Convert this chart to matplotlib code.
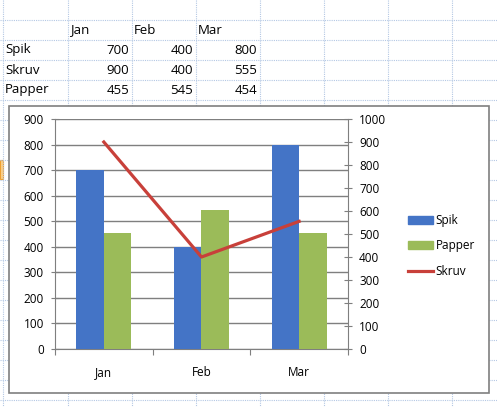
import matplotlib.pyplot as plt
from matplotlib.patches import Rectangle
from matplotlib.lines import Line2D

months = ['Jan', 'Feb', 'Mar']
spik = [700, 400, 800]
skruv = [900, 400, 555]
papper = [455, 545, 454]

blue = '#4474c6'
green = '#9bbb59'
red = '#c8403a'
grid_col = '#b4c8e4'

plt.rcParams['font.family'] = ['Open Sans', 'DejaVu Sans']

W, H = 497, 407
fig = plt.figure(figsize=(W / 100, H / 100), dpi=100)

# sheet background in pixel coordinates
bg = fig.add_axes([0, 0, 1, 1])
bg.set_xlim(0, W)
bg.set_ylim(H, 0)
bg.axis('off')

for x in [3, 68, 132, 196, 260, 324, 388, 452]:
    bg.plot([x, x], [0, H], color=grid_col, lw=0.8, ls=(0, (1, 1)))
for k in range(21):
    y = 19.5 + 20 * k
    bg.plot([0, W], [y, y], color=grid_col, lw=0.8, ls=(0, (1, 1)))
bg.add_patch(Rectangle((0, 160), 3, 19, facecolor='#fbd08a', edgecolor='#f0a030', lw=0.8))

# the table
rows = [('Spik', spik), ('Skruv', skruv), ('Papper', papper)]
col_left = [70, 134, 198]
col_right = [129, 193, 257]
for i, m in enumerate(months):
    bg.text(col_left[i], 30, m, fontsize=9.5, va='center', ha='left')
for r, (name, vals) in enumerate(rows):
    y = 50 + 20 * r
    bg.text(5, y, name, fontsize=9.5, va='center', ha='left')
    for i, v in enumerate(vals):
        bg.text(col_right[i], y, str(v), fontsize=9.5, va='center', ha='right')

# chart area
bg.add_patch(Rectangle((9, 106), 480, 287, facecolor='white', edgecolor='#7f7f7f', lw=1.2, zorder=5))

ax = fig.add_axes([55 / W, 1 - 349 / H, 293 / W, 230 / H], zorder=10)
ax.patch.set_alpha(0)
x = range(len(months))
w = 0.28
ax.bar([i - w / 2 for i in x], spik, w, color=blue, label='Spik', zorder=3)
ax.bar([i + w / 2 for i in x], papper, w, color=green, label='Papper', zorder=3)
ax.set_xlim(-0.5, 2.5)
ax.set_ylim(0, 900)
ax.set_yticks(range(0, 901, 100))
ax.yaxis.grid(True, color='#7f7f7f', lw=1, zorder=0)
ax.set_axisbelow(True)
ax.set_xticks([-0.5, 0.5, 1.5, 2.5])
ax.set_xticklabels([])
ax.set_xticks(list(x), minor=True)
ax.set_xticklabels(months, minor=True)
ax.tick_params(axis='x', which='minor', length=0, pad=12, labelsize=8.5)
ax.tick_params(axis='x', which='major', length=4, color='#7f7f7f')
ax.tick_params(axis='y', direction='inout', length=6, color='#7f7f7f', labelsize=8.5, pad=5)
for s in ['top', 'right']:
    ax.spines[s].set_visible(False)
for s in ['left', 'bottom']:
    ax.spines[s].set_color('#7f7f7f')

ax2 = ax.twinx()
ax2.plot(list(x), skruv, color=red, lw=2.3, label='Skruv', zorder=4)
ax2.set_ylim(0, 1000)
ax2.set_yticks(range(0, 1001, 100))
ax2.tick_params(axis='y', direction='inout', length=6, color='#7f7f7f', labelsize=8.5, pad=5)
for s in ['top', 'left', 'bottom']:
    ax2.spines[s].set_visible(False)
ax2.spines['right'].set_color('#7f7f7f')

handles = [Rectangle((0, 0), 1, 1, color=blue), Rectangle((0, 0), 1, 1, color=green),
           Line2D([], [], color=red, lw=2.3)]
fig.legend(handles, ['Spik', 'Papper', 'Skruv'], loc='upper left',
           bbox_to_anchor=(408 / W, 1 - 214 / H), bbox_transform=fig.transFigure,
           frameon=False, fontsize=8.5, handlelength=2.1, handletextpad=0.25,
           labelspacing=1.05, borderpad=0, borderaxespad=0)

fig.savefig('out.png', dpi=100)
